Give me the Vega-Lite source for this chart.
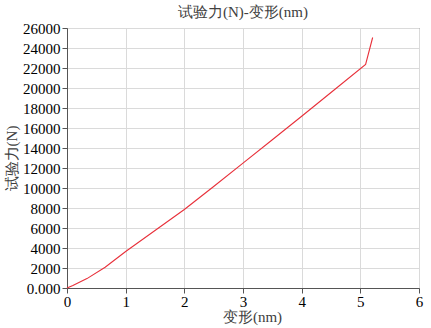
{
  "$schema": "https://vega.github.io/schema/vega-lite/v6.json",
  "autosize": "none",
  "width": 352,
  "height": 260,
  "padding": {"left": 67, "top": 28, "right": 12, "bottom": 40},
  "background": "white",
  "title": {
    "text": "试验力(N)-变形(nm)",
    "font": "Liberation Serif",
    "fontSize": 15,
    "fontWeight": "normal",
    "color": "#404040",
    "anchor": "middle",
    "offset": 1
  },
  "config": {
    "view": {"stroke": "#555555", "strokeWidth": 1},
    "axis": {
      "labelFont": "Liberation Serif",
      "labelFontSize": 15,
      "labelColor": "#000000",
      "titleFont": "Liberation Serif",
      "titleFontSize": 15,
      "titleFontWeight": "normal",
      "titleColor": "#404040",
      "domainColor": "#555555",
      "tickColor": "#555555",
      "tickSize": 5,
      "gridColor": "#dadada",
      "gridWidth": 1
    }
  },
  "data": {
    "values": [
      {"x": 0, "y": 0},
      {"x": 0.1, "y": 250},
      {"x": 0.34, "y": 940},
      {"x": 0.65, "y": 2070},
      {"x": 1, "y": 3650},
      {"x": 1.5, "y": 5750},
      {"x": 2, "y": 7850},
      {"x": 2.5, "y": 10150},
      {"x": 3, "y": 12490},
      {"x": 3.5, "y": 14830},
      {"x": 4, "y": 17180},
      {"x": 4.5, "y": 19550},
      {"x": 5.09, "y": 22350},
      {"x": 5.21, "y": 25050}
    ]
  },
  "mark": {"type": "line", "color": "#e8303a", "strokeWidth": 1.1},
  "encoding": {
    "x": {
      "field": "x",
      "type": "quantitative",
      "scale": {"domain": [0, 6], "nice": false},
      "axis": {"values": [0, 1, 2, 3, 4, 5, 6], "title": "变形(nm)", "titlePadding": 0, "labelPadding": 1, "labelFlush": false, "titleX": 185}
    },
    "y": {
      "field": "y",
      "type": "quantitative",
      "scale": {"domain": [0, 26000], "nice": false},
      "axis": {
        "values": [0, 2000, 4000, 6000, 8000, 10000, 12000, 14000, 16000, 18000, 20000, 22000, 24000, 26000],
        "labelExpr": "datum.value == 0 ? '0.000' : format(datum.value, 'd')",
        "title": "试验力(N)",
        "titlePadding": 3,
        "labelPadding": 2,
        "labelFlush": false
      }
    }
  }
}
